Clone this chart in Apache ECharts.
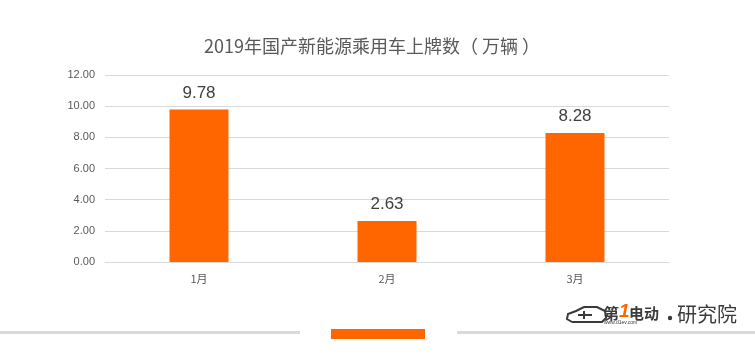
<!DOCTYPE html>
<html><head><meta charset="utf-8">
<script src="https://cdn.jsdelivr.net/npm/echarts@6/dist/echarts.min.js"></script>
<style>html,body{margin:0;padding:0;background:#fff}#c{width:755px;height:362px}</style>
</head><body><div id="c"></div>
<script>
const categories = ['1月', '2月', '3月'];
const values = [9.78, 2.63, 8.28];
const yTicks = { min: 0, max: 12, interval: 2 };
const titleText = '2019年国产新能源乘用车上牌数（ 万辆 ）';

const chart = echarts.init(document.getElementById('c'));
chart.setOption({
  backgroundColor: '#fff',
  animation: false,
  title: { text: titleText, left: 199, top: 32,
    textStyle: { fontSize: 18, fontWeight: 'normal', color: '#595959', fontFamily: 'Noto Sans CJK SC' } },
  grid: { left: 105, right: 86, top: 75, bottom: 100 },
  xAxis: { type: 'category', data: categories,
    axisLine: { lineStyle: { color: '#d9d9d9', width: 1 } },
    axisTick: { show: false },
    axisLabel: { color: '#595959', fontSize: 11, margin: 11, fontFamily: 'Noto Sans CJK SC' } },
  yAxis: { type: 'value', min: yTicks.min, max: yTicks.max, interval: yTicks.interval,
    axisLine: { show: false }, axisTick: { show: false },
    splitLine: { lineStyle: { color: '#d9d9d9', width: 1 } },
    axisLabel: { color: '#595959', fontSize: 11, margin: 10, fontFamily: 'Liberation Sans',
      formatter: v => v.toFixed(2) } },
  series: [{ type: 'bar', data: values, barWidth: 59,
    itemStyle: { color: '#ff6600' },
    label: { show: true, position: 'top', distance: 8, color: '#404040', fontSize: 17,
      fontFamily: 'Liberation Sans', formatter: p => p.value.toFixed(2) } }],
  graphic: [
    { type: 'rect', left: 0, top: 331, shape: { width: 300, height: 3 }, style: { fill: '#d9d9d9' } },
    { type: 'rect', left: 457, top: 331, shape: { width: 298, height: 3 }, style: { fill: '#d9d9d9' } },
    { type: 'rect', left: 331, top: 329, shape: { width: 94, height: 10 }, style: { fill: '#ff6600' } },
    { type: 'polyline', shape: { points: [[572,322],[567,319],[568,314],[576,311],[584,307],[597,307],[605,311],[606,318],[602,322],[572,322]] },
      style: { stroke: '#3a3a3a', lineWidth: 2, fill: 'none' } },
    { type: 'polyline', shape: { points: [[578,315],[592,315]] }, style: { stroke: '#3a3a3a', lineWidth: 2 } },
    { type: 'polyline', shape: { points: [[584,311],[584,319]] }, style: { stroke: '#3a3a3a', lineWidth: 2 } },
    { type: 'text', x: 604, y: 306, style: { text: '第', fontSize: 15, fontWeight: 'bold', fill: '#3a3a3a', fontFamily: 'Noto Sans CJK SC' } },
    { type: 'text', x: 619, y: 302, style: { text: '1', fontSize: 19, fontWeight: 'bold', fill: '#ff6600', fontFamily: 'Liberation Sans', fontStyle: 'italic' } },
    { type: 'text', x: 629, y: 306, style: { text: '电动', fontSize: 15, fontWeight: 'bold', fill: '#3a3a3a', fontFamily: 'Noto Sans CJK SC' } },
    { type: 'text', x: 604, y: 320, style: { text: 'www.d1ev.com', fontSize: 5, fill: '#3a3a3a', fontFamily: 'Liberation Sans' } },
    { type: 'circle', shape: { cx: 670, cy: 318, r: 2.2 }, style: { fill: '#3a3a3a' } },
    { type: 'text', x: 677, y: 304, style: { text: '研究院', fontSize: 20, fill: '#3a3a3a', fontFamily: 'Noto Sans CJK SC' } }
  ]
});
</script></body></html>
